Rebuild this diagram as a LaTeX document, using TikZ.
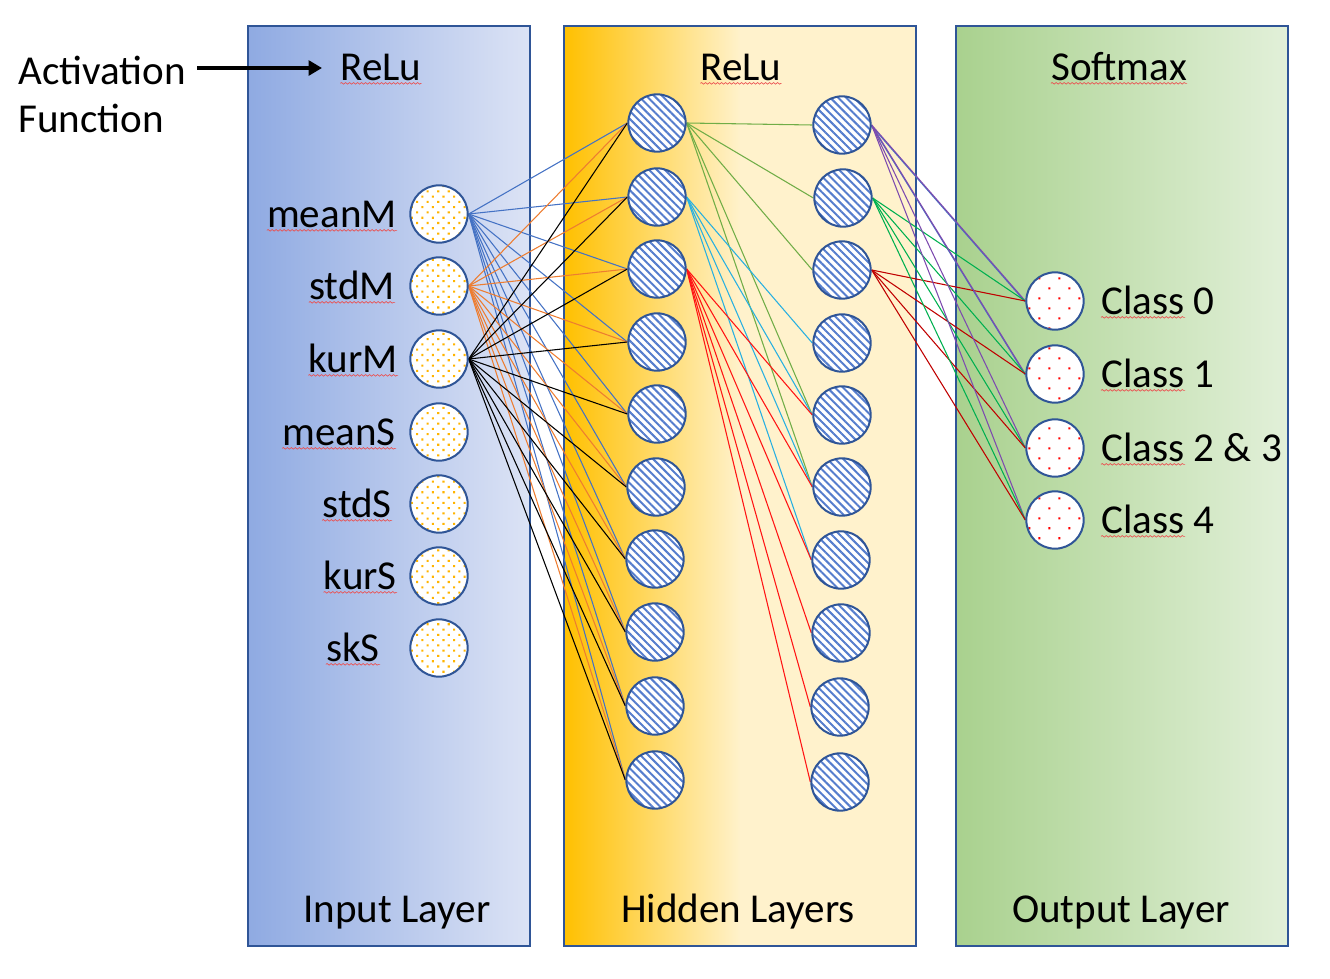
\documentclass[tikz,border=0pt]{standalone}
\usepackage{fontspec}
\setmainfont{Carlito}
\usetikzlibrary{patterns.meta,arrows.meta,decorations.pathmorphing}
\pgfdeclarelayer{bg}\pgfdeclarelayer{mid}\pgfsetlayers{bg,mid,main}
\definecolor{inL}{RGB}{143,170,226}
\definecolor{inR}{RGB}{220,227,245}
\definecolor{hidL}{RGB}{255,192,0}
\definecolor{hidR}{RGB}{255,242,204}
\definecolor{outL}{RGB}{169,209,142}
\definecolor{outR}{RGB}{226,240,217}
\definecolor{edge}{RGB}{47,85,151}
\definecolor{cBlue}{RGB}{68,114,196}
\definecolor{cStripe}{RGB}{85,125,205}
\definecolor{cOrange}{RGB}{237,125,49}
\definecolor{cGreen}{RGB}{112,173,71}
\definecolor{cCyan}{RGB}{40,176,225}
\definecolor{cRed}{RGB}{255,20,20}
\definecolor{cPurple}{RGB}{125,75,175}
\definecolor{cGreenB}{RGB}{0,176,80}
\definecolor{cDRed}{RGB}{192,0,0}
\definecolor{dotO}{RGB}{255,180,0}
\definecolor{squigc}{RGB}{235,80,80}
\begin{document}
\begin{tikzpicture}[x=0.75pt,y=-0.75pt,
  panel/.style={draw=edge,line width=1.5pt},
  neuron/.style={circle,draw=edge,line width=1.5pt,minimum size=43pt,inner sep=0pt,preaction={fill=white}},
  inode/.style={neuron,preaction={pattern={Dots[radius=1.1pt,distance=5.6pt,angle=45]},pattern color=dotO}},
  hnode/.style={neuron,preaction={pattern={Lines[angle=-45,distance=4.2pt,line width=1.5pt]},pattern color=cStripe}},
  onode/.style={neuron,preaction={pattern={Dots[radius=1.1pt,distance=10.6pt,angle=45]},pattern color=red}},
  lbl/.style={inner sep=0pt,font=\fontsize{30.8}{37}\selectfont},
  conn/.style={line width=0.8pt},
  squig/.style={draw=squigc,line width=0.5pt,decorate,decoration={snake,amplitude=0.6pt,segment length=3pt}}]
\useasboundingbox (0,0) rectangle (1330,978);
\begin{pgfonlayer}{bg}
  \fill[left color=inL,right color=inR] (248,26) rectangle (530,946);
  \fill[left color=hidL,right color=hidR] (564,26) rectangle (741,946);
  \fill[hidR] (740,26) rectangle (916,946);
  \fill[left color=outL,right color=outR] (956,26) rectangle (1288,946);
  \draw[panel] (248,26) rectangle (530,946);
  \draw[panel] (564,26) rectangle (916,946);
  \draw[panel] (956,26) rectangle (1288,946);
\end{pgfonlayer}
% text
\node[lbl,anchor=base west] (act) at (18,84) {Activation};
\node[lbl,anchor=base west] (fun) at (18,132) {Function};
\coordinate (arrS) at (197,68);
\coordinate (arrE) at (322,68);
\draw[line width=3.5pt,-{Triangle[length=10pt,width=11pt]}] (arrS) -- (arrE);
\node[lbl,anchor=base] (t1) at (381,80) {ReLu};
\node[lbl,anchor=base] (t2) at (741,80) {ReLu};
\node[lbl,anchor=base] (t3) at (1119,80) {Softmax};
\node[lbl,anchor=base] (b1) at (397,922) {Input Layer};
\node[lbl,anchor=base] (b2) at (738,922) {Hidden Layers};
\node[lbl,anchor=base] (b3) at (1121,922) {Output Layer};
\foreach \t in {t1,t2,t3}
  \draw[squig] ([yshift=-2.5pt]\t.base west) -- ([yshift=-2.5pt]\t.base east);
% input nodes
\foreach \n/\y/\x/\t in {1/214/397/meanM,2/286/395/stdM,3/359/398/kurM,4/432/396/meanS,5/504/392/stdS,6/576/397/kurS,7/648/380/skS}{
  \node[inode] (i\n) at (439,\y) {};
  \node[lbl,anchor=base east] (li\n) at (\x,\y+13) {\t};
  \draw[squig] ([yshift=-2.5pt]li\n.base west) -- ([yshift=-2.5pt]li\n.base east);
}
% hidden layer 1
\foreach \n/\x/\y in {1/657/123,2/657/197,3/657/269,4/657/342,5/657/414,6/656/487,7/655/559,8/655/632,9/655/706,10/655/780}
  \node[hnode] (h\n) at (\x,\y) {};
% hidden layer 2
\foreach \n/\x/\y in {1/842/125,2/843/198,3/842/270,4/842/343,5/842/415,6/842/487,7/841/560,8/841/633,9/840/707,10/840/782}
  \node[hnode] (g\n) at (\x,\y) {};
% output
\foreach \n/\y/\t in {1/301/Class 0,2/374/Class 1,3/448/Class 2 \& 3,4/520/Class 4}{
  \node[onode] (o\n) at (1055,\y) {};
  \node[lbl,anchor=base west] (lo\n) at (1101,\y+13) {\t};
  \draw[squig] ([yshift=-2.5pt]lo\n.base west) -- ++(84,0);
}
\begin{pgfonlayer}{mid}
  \foreach \a/\c in {1/cBlue,2/cOrange,3/black}
    \foreach \b in {1,...,10}
      \draw[conn,\c] (i\a.east) -- (h\b.west);
  \foreach \b in {1,2,3,5,6}
    \draw[conn,cGreen] (h1.east) -- (g\b.west);
  \foreach \b in {4,5,6,7}
    \draw[conn,cCyan] (h2.east) -- (g\b.west);
  \foreach \b in {5,...,10}
    \draw[conn,cRed] (h3.east) -- (g\b.west);
  \foreach \b in {1,2}
    \draw[conn,cBlue] ([yshift=-0.8pt]g1.east) -- ([yshift=-0.8pt]o\b.west);
  \foreach \b in {1,...,4}{
    \draw[conn,cPurple] (g1.east) -- (o\b.west);
    \draw[conn,cGreenB] (g2.east) -- (o\b.west);
    \draw[conn,cDRed] (g3.east) -- (o\b.west);
  }
\end{pgfonlayer}
\end{tikzpicture}
\end{document}
